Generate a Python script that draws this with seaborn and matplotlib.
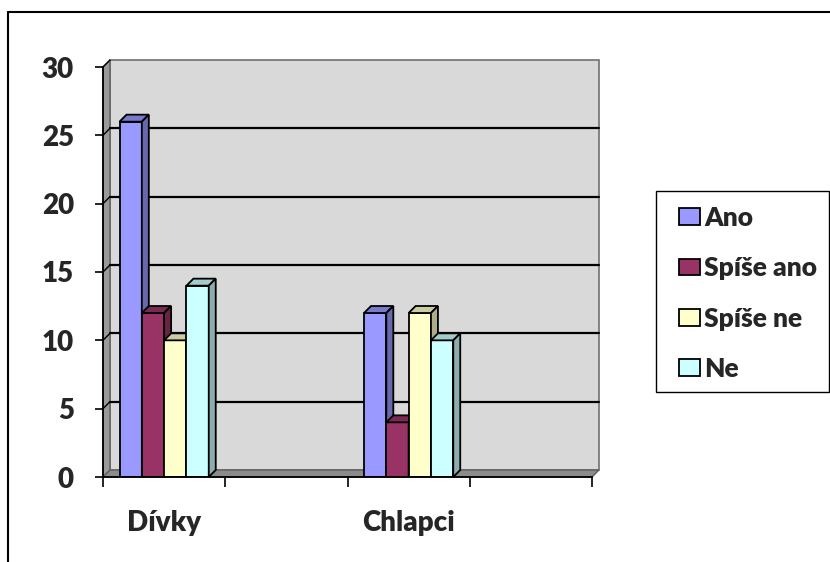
import numpy as np
import pandas as pd
import matplotlib
matplotlib.use("Agg")
import matplotlib.pyplot as plt
import seaborn as sns
from matplotlib.patches import Rectangle, Polygon, Patch
from matplotlib.lines import Line2D
import matplotlib.colors as mcolors

# ---- data ----
categories = ["Dívky", "Chlapci"]
slots = ["Dívky", "_blank1", "Chlapci", "_blank2"]
series = ["Ano", "Spíše ano", "Spíše ne", "Ne"]
values_divky = [26, 12, 10, 14]
values_chlapci = [12, 4, 12, 10]
yticks = [0, 5, 10, 15, 20, 25, 30]
colors = ["#9999FF", "#993366", "#FFFFCC", "#CCFFFF"]

df = pd.DataFrame({
    "group": [categories[0]] * 4 + [categories[1]] * 4,
    "answer": series + series,
    "count": values_divky + values_chlapci,
})

sns.set_theme(style="white")
plt.rcParams["font.family"] = ["Lato", "DejaVu Sans"]
plt.rcParams["font.weight"] = "heavy"
WEIGHT = "heavy"

W, H = 830, 562
fig = plt.figure(figsize=(W / 100, H / 100), dpi=100)
ax = fig.add_axes([103 / W, 1 - 477 / H, (592 - 103) / W, (477 - 67) / H])
ax.set_facecolor("none")

sns.barplot(data=df, x="group", y="count", hue="answer", order=slots,
            hue_order=series, palette=colors, width=0.73, edgecolor="black",
            linewidth=1.3, legend=False, ax=ax, saturation=1)
bars = [p for p in ax.patches if p.get_height() > 0]

ax.set_xlim(-0.5, 3.5)
ax.set_ylim(0, 30)

# depth of pseudo-3D in data units (7 px)
inv = ax.transData.inverted()
p0 = inv.transform((0, 0))
p1 = inv.transform((7, 7))
dx, dy = p1[0] - p0[0], p1[1] - p0[1]

# back wall
x0, x1 = -0.5, 3.5
ax.add_patch(Rectangle((x0 + dx, dy), 4, 30, facecolor="#d9d9d9",
                       edgecolor="#707070", lw=1.2, zorder=0.1, clip_on=False))
# left wall
ax.add_patch(Polygon([(x0, 0), (x0, 30), (x0 + dx, 30 + dy), (x0 + dx, dy)],
                     closed=True, facecolor="#9a9a9a", edgecolor="#606060",
                     lw=1, zorder=0.2, clip_on=False))
# floor
ax.add_patch(Polygon([(x0, 0), (x1, 0), (x1 + dx, dy), (x0 + dx, dy)],
                     closed=True, facecolor="#8c8c8c", edgecolor="#606060",
                     lw=1, zorder=0.2, clip_on=False))
# gridlines on back wall
for v in yticks[1:-1]:
    ax.add_line(Line2D([x0 + dx, x1 + dx], [v + dy, v + dy], color="black",
                       lw=1.6, zorder=0.3, clip_on=False))
for v in yticks[1:]:
    ax.add_line(Line2D([x0, x0 + dx], [v, v + dy], color="black",
                       lw=1.0, zorder=0.3, clip_on=False))


def shade(c, f):
    r, g, b = mcolors.to_rgb(c)
    return (r * f, g * f, b * f)


bars_sorted = sorted(bars, key=lambda p: p.get_x())
for i, p in enumerate(bars_sorted):
    z = 2 + i * 0.01
    bx, bw, bh = p.get_x(), p.get_width(), p.get_height()
    fc = p.get_facecolor()
    p.set_zorder(z)
    ax.add_patch(Polygon([(bx, bh), (bx + bw, bh), (bx + bw + dx, bh + dy),
                          (bx + dx, bh + dy)], closed=True,
                         facecolor=shade(fc, 0.8), edgecolor="black", lw=1.3,
                         zorder=z, clip_on=False))
    ax.add_patch(Polygon([(bx + bw, 0), (bx + bw, bh), (bx + bw + dx, bh + dy),
                          (bx + bw + dx, dy)], closed=True,
                         facecolor=shade(fc, 0.68), edgecolor="black", lw=1.3,
                         zorder=z, clip_on=False))

# axes styling
for s in ["top", "right"]:
    ax.spines[s].set_visible(False)
for s in ["left", "bottom"]:
    ax.spines[s].set_color("black")
    ax.spines[s].set_linewidth(1.3)
    ax.spines[s].set_zorder(5)

ax.set_yticks(yticks)
ax.set_yticklabels([str(v) for v in yticks], fontsize=20, fontweight=WEIGHT)
ax.tick_params(axis="y", direction="out", length=6, width=1.2, color="black",
               pad=15, left=True)
ax.set_xticks(np.arange(-0.5, 4.0, 1.0))
ax.set_xticklabels([""] * 5)
ax.tick_params(axis="x", which="major", direction="out", length=7, width=1.2,
               color="black", bottom=True)
ax.set_xticks([0, 2], minor=True)
ax.set_xticklabels(categories, minor=True, fontsize=20, fontweight=WEIGHT)
ax.tick_params(axis="x", which="minor", length=0, pad=24)
ax.set_xlabel("")
ax.set_ylabel("")

# legend
handles = [Patch(facecolor=c, edgecolor="black", lw=1.3, label=s)
           for c, s in zip(colors, series)]
leg = fig.legend(handles=handles, loc="upper left",
                 bbox_to_anchor=(679 / W, 1 - 206 / H), frameon=False,
                 prop={"family": ["Lato", "DejaVu Sans"], "weight": WEIGHT,
                       "size": 19},
                 handlelength=0.8, handleheight=0.6, handletextpad=0.15,
                 labelspacing=1.0, borderpad=0, borderaxespad=0)
fig.add_artist(Rectangle((656 / W, 1 - 392 / H), 173 / W, 201 / H,
                         transform=fig.transFigure, facecolor="none",
                         edgecolor="black", lw=1.0))

# outer chart border
fig.add_artist(Line2D([8 / W, 1.0], [1 - 12 / H, 1 - 12 / H],
                      transform=fig.transFigure, color="black", lw=1.5))
fig.add_artist(Line2D([8 / W, 8 / W], [1 - 12 / H, 0.0],
                      transform=fig.transFigure, color="black", lw=1.5))

fig.savefig("out.png", dpi=100)
